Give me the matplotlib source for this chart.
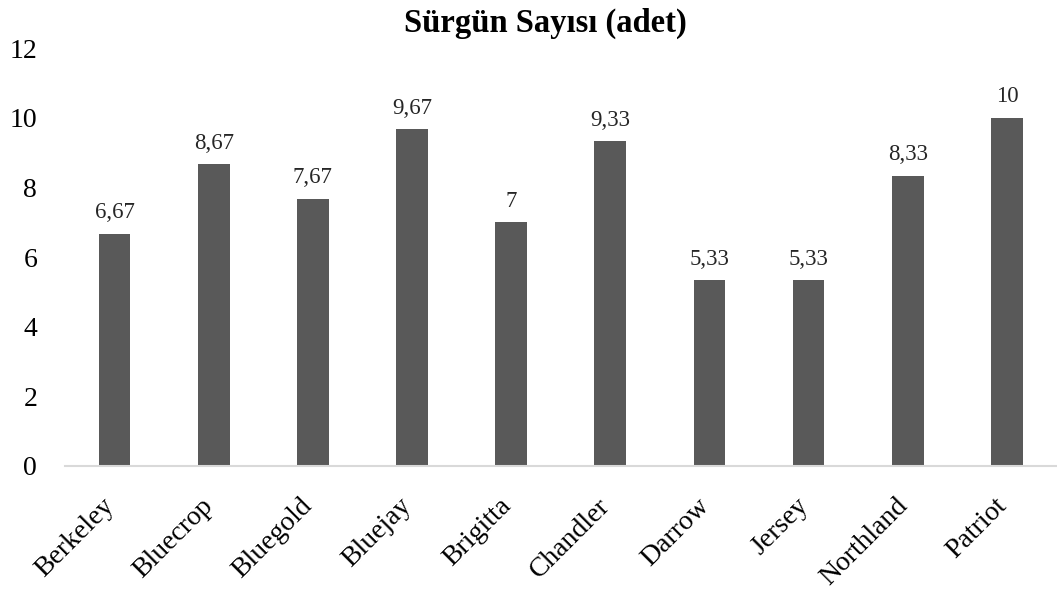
import numpy as np
import matplotlib
matplotlib.use('Agg')
import matplotlib.pyplot as plt
import matplotlib.transforms as mtransforms

plt.rcParams['font.family'] = ['Liberation Serif', 'DejaVu Serif']

# data
cultivars = ['Berkeley', 'Bluecrop', 'Bluegold', 'Bluejay', 'Brigitta',
             'Chandler', 'Darrow', 'Jersey', 'Northland', 'Patriot']
values = [6.67, 8.67, 7.67, 9.67, 7, 9.33, 5.33, 5.33, 8.33, 10]
labels = ['6,67', '8,67', '7,67', '9,67', '7', '9,33', '5,33', '5,33', '8,33', '10']

fig = plt.figure(figsize=(10.57, 5.95), dpi=100)
ax = fig.add_axes([0.0615, 0.217, 0.938, 0.702])

x = np.arange(len(cultivars))
bars = ax.bar(x, values, width=0.32, color='#595959')
for b, lab in zip(bars, labels):
    ax.text(b.get_x() + b.get_width()/2, b.get_height() + 0.3, lab,
            ha='center', va='bottom', fontsize=16.5, color='#262626')

ax.set_xlim(-0.5, len(cultivars) - 0.5)
ax.set_ylim(0, 12)
ax.set_yticks(range(0, 13, 2))
ax.set_xticks(x)
ax.set_xticklabels(cultivars, rotation=45, ha='right', rotation_mode='anchor')
ax.tick_params(axis='both', length=0, labelsize=20)
ax.tick_params(axis='x', pad=14)
ax.tick_params(axis='y', pad=20)

# nudge rotated labels so their ends sit under the bars
shift = mtransforms.ScaledTranslation(-13/100, -8/100, fig.dpi_scale_trans)
for t in ax.get_xticklabels():
    t.set_transform(t.get_transform() + shift)

for s in ['top', 'right', 'left']:
    ax.spines[s].set_visible(False)
ax.spines['bottom'].set_color('#d9d9d9')
ax.spines['bottom'].set_linewidth(1.5)

fig.text(0.516, 0.96, 'Sürgün Sayısı (adet)', ha='center', va='center',
         fontsize=23.5, fontweight='bold')

plt.savefig('out.png', dpi=100)
